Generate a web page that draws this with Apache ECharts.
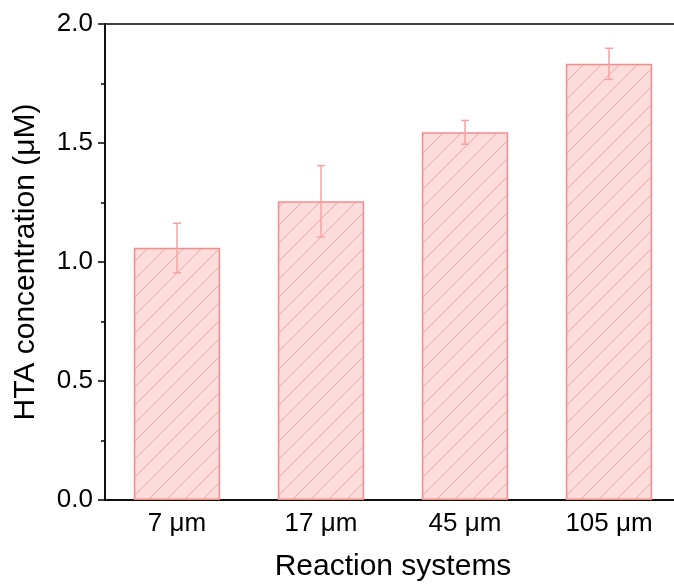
<!DOCTYPE html>
<html>
<head>
<meta charset="utf-8">
<script src="https://cdn.jsdelivr.net/npm/echarts@6/dist/echarts.min.js"></script>
<style>
  html, body { margin: 0; padding: 0; background: #fff; }
  #chart { width: 674px; height: 586px; }
</style>
</head>
<body>
<div id="chart"></div>
<script>
const categories = ["7 μm", "17 μm", "45 μm", "105 μm"];
const concentration = [1.06, 1.255, 1.545, 1.833];
const errLow = [0.955, 1.105, 1.495, 1.767];
const errHigh = [1.163, 1.405, 1.595, 1.898];

const FONT = "'Liberation Sans', Arial, sans-serif";

// diagonal hatch pattern for the bars
function hatch() {
  const s = 18;
  const c = document.createElement("canvas");
  c.width = s;
  c.height = s;
  const ctx = c.getContext("2d");
  ctx.fillStyle = "#fddcdc";
  ctx.fillRect(0, 0, s, s);
  ctx.strokeStyle = "#f5a5a5";
  ctx.lineWidth = 1;
  ctx.beginPath();
  ctx.moveTo(0, s); ctx.lineTo(s, 0);
  ctx.moveTo(-2, 2); ctx.lineTo(2, -2);
  ctx.moveTo(s - 2, s + 2); ctx.lineTo(s + 2, s - 2);
  ctx.stroke();
  return c;
}

const chart = echarts.init(document.getElementById("chart"));

chart.setOption({
  animation: false,
  grid: {
    left: 105, top: 24, width: 576, height: 476,
    outerBoundsMode: "none",
    show: true, borderColor: "#000", borderWidth: 1.5, backgroundColor: "transparent",
  },
  xAxis: [
    {
      type: "category",
      data: categories,
      name: "Reaction systems",
      nameLocation: "middle",
      nameGap: 52,
      nameTextStyle: { fontFamily: FONT, fontSize: 30, color: "#000" },
      axisLine: { lineStyle: { color: "#000", width: 1.5 } },
      axisTick: { alignWithLabel: true, length: 7, lineStyle: { color: "#000", width: 1.5 } },
      axisLabel: { fontFamily: FONT, fontSize: 26, color: "#000", margin: 11 },
    },
    {
      type: "category",
      data: categories,
      position: "bottom",
      axisLine: { show: false },
      axisTick: { length: 4, lineStyle: { color: "#000", width: 1.5 } },
      axisLabel: { show: false },
    },
  ],
  yAxis: {
    type: "value",
    min: 0,
    max: 2,
    interval: 0.5,
    name: "HTA concentration (μM)",
    nameLocation: "middle",
    nameGap: 64,
    nameTextStyle: { fontFamily: FONT, fontSize: 30, color: "#000" },
    axisLine: { show: true, lineStyle: { color: "#000", width: 1.5 } },
    axisTick: { show: true, length: 7, lineStyle: { color: "#000", width: 1.5 } },
    minorTick: { show: true, splitNumber: 2, length: 4, lineStyle: { color: "#000", width: 1.5 } },
    splitLine: { show: false },
    axisLabel: {
      fontFamily: FONT, fontSize: 26, color: "#000", margin: 12,
      formatter: (v) => v.toFixed(1),
    },
  },
  series: [
    {
      type: "bar",
      data: concentration,
      barWidth: "60%",
      itemStyle: {
        color: { image: hatch(), repeat: "repeat" },
        borderColor: "#f78a8a",
        borderWidth: 1.5,
      },
      z: 2,
    },
    {
      type: "custom",
      data: categories.map((c, i) => [i, errLow[i], errHigh[i]]),
      z: 3,
      renderItem(params, api) {
        const lo = api.coord([api.value(0), api.value(1)]);
        const hi = api.coord([api.value(0), api.value(2)]);
        const w = 4;
        const style = { stroke: "#f4a3a3", lineWidth: 1.5 };
        return {
          type: "group",
          children: [
            { type: "line", shape: { x1: hi[0], y1: hi[1], x2: lo[0], y2: lo[1] }, style },
            { type: "line", shape: { x1: hi[0] - w, y1: hi[1], x2: hi[0] + w, y2: hi[1] }, style },
            { type: "line", shape: { x1: lo[0] - w, y1: lo[1], x2: lo[0] + w, y2: lo[1] }, style },
          ],
        };
      },
    },
  ],
});
</script>
</body>
</html>
